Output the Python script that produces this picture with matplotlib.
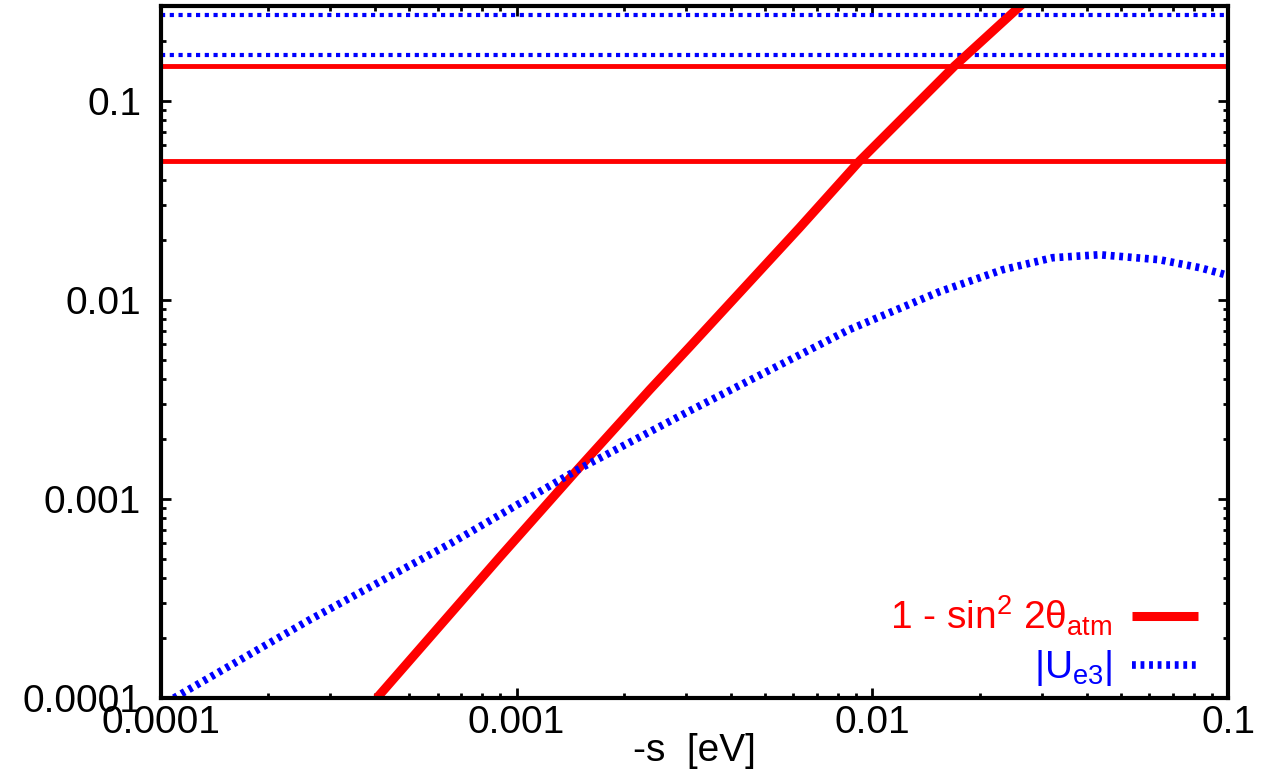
"""
-s dependence of 1 - sin^2 2theta_atm and |U_e3|
"""
import matplotlib
matplotlib.use('Agg')
import matplotlib.pyplot as plt
import matplotlib as mpl

# red thick curve: 1 - sin^2 2theta_atm
s_red = [4.05e-4, 8.95e-4, 1.48e-3, 2.37e-3, 3.06e-3, 6.24e-3, 9.2e-3, 1.7e-2, 2.64e-2]
y_red = [1.0e-4, 5.08e-4, 1.40e-3, 3.55e-3, 5.8e-3, 2.31e-2, 5.0e-2, 1.5e-1, 3.08e-1]

# blue dotted curve: |U_e3|
s_blue = [1.09e-4, 2.62e-4, 6.6e-4, 1.48e-3, 3.06e-3, 8.6e-3, 1.54e-2, 2.32e-2,
          3.21e-2, 4.35e-2, 6.4e-2, 8.3e-2, 1.0e-1]
y_blue = [1.0e-4, 2.47e-4, 6.05e-4, 1.40e-3, 2.77e-3, 7.1e-3, 1.1e-2, 1.42e-2,
          1.633e-2, 1.69e-2, 1.596e-2, 1.456e-2, 1.33e-2]

# experimental bounds (horizontal lines)
red_bounds = [0.05, 0.15]
blue_bounds = [0.17, 0.27]

ticks = [1e-4, 1e-3, 1e-2, 1e-1]
tick_labels = ['0.0001', '0.001', '0.01', '0.1']

mpl.rc('font', family=['Liberation Sans', 'DejaVu Sans'], size=28)
mpl.rc('mathtext', fontset='custom', rm='Liberation Sans', it='Liberation Sans',
       default='regular')

fig = plt.figure(figsize=(12.65, 7.73), dpi=100)
ax = fig.add_axes([0.127, 0.097, 0.844, 0.895])

for b in red_bounds:
    ax.axhline(b, color='red', lw=3.5)
for b in blue_bounds:
    ax.axhline(b, color='blue', lw=3, dashes=(1, 1.1), dash_capstyle='butt')

ax.plot(s_red, y_red, color='red', lw=6.5, solid_capstyle='butt',
        label=r'1 - sin$^2$ 2θ$_{\rm atm}$')
ax.plot(s_blue, y_blue, color='blue', lw=5.5, dashes=(0.5, 0.62),
        dash_capstyle='butt', label=r'|U$_{\rm e3}$|')

ax.set_xscale('log')
ax.set_yscale('log')
ax.set_xlim(1e-4, 0.1)
ax.set_ylim(1e-4, 0.3)
ax.set_xticks(ticks, tick_labels)
ax.set_yticks(ticks, tick_labels)

for sp in ax.spines.values():
    sp.set_linewidth(3)
ax.tick_params(which='both', direction='in', top=True, right=True, width=2)
ax.tick_params(which='major', length=7.5)
ax.tick_params(which='minor', length=3.8)
ax.tick_params(axis='x', pad=5)
ax.tick_params(axis='y', pad=14)

ax.set_xlabel('-s  [eV]', labelpad=-6)

leg = ax.legend(loc='lower right', bbox_to_anchor=(0.972, 0.014), frameon=False,
                markerfirst=False, labelcolor='linecolor', handlelength=1.72,
                handletextpad=0.49, labelspacing=0.26, borderaxespad=0,
                borderpad=0)

fig.savefig('out.png', dpi=100)
